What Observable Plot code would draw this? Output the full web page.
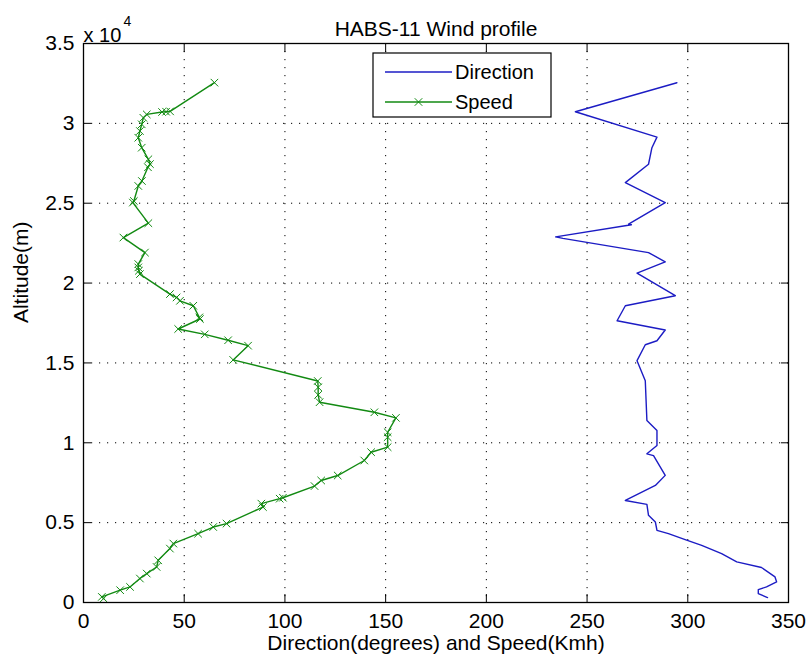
<!DOCTYPE html>
<html><head><meta charset="utf-8">
<script src="https://cdn.jsdelivr.net/npm/d3@7"></script>
<script src="https://cdn.jsdelivr.net/npm/@observablehq/plot@0.6"></script>
<style>body{margin:0;background:#fff} #chart{width:810px;height:666px}</style>
</head><body><div id="chart"></div>
<script>
// Wind speed (km/h) versus altitude (m)
const speedAlt = [32550,30750,30730,30710,30560,30350,29940,29520,29100,28475,27750,27450,27250,26390,26080,25140,25040,23750,22850,21910,21190,20980,20770,20560,19310,19100,18890,18580,17850,17750,17125,16790,16420,16080,15190,13870,13475,13000,12540,11910,11560,10660,10350,9725,9410,8890,7950,7640,7290,6560,6500,6190,5975,4940,4725,4310,3690,3375,2640,2225,1810,1500,975,770,350,250];
const speedKmh = [65,43,41,39,31.4,29.7,28.9,28,27.2,28.9,32.2,33,32,29,27.2,25,24.5,32.2,19.8,30.5,27.2,27.2,27.5,28,42.9,46.2,47.9,54.5,57.5,57.8,47,60.2,71.8,81.7,74.3,116.3,116.5,116.5,117.2,144.4,155.1,151,151,151,142.8,139.4,126.2,118,114.7,99,97.4,88.3,89.1,71,64.4,56.9,44.6,42.9,37.1,36.3,31.4,28,23.1,18.2,9.1,10];
// Wind direction (degrees) versus altitude (m)
const dirAlt = [32540,30725,29140,28475,27440,26290,25040,23690,23650,22890,22800,21910,21330,20625,19210,18580,17640,17060,16390,16140,15140,13890,11390,10770,9830,9310,9200,7960,7330,6390,6140,5460,5040,4520,4310,3940,3580,3060,2540,2190,1600,1290,975,810,560,310];
const dirDeg = [294.6,244.2,284.7,282.2,280.5,269,288.8,270.6,272,234.4,238,280.5,288.8,274.8,293.8,269,264.9,288.8,284.7,278.9,274.8,278.9,279.7,284.7,284.7,279.7,283,288.8,283.9,269,279.7,280.5,283.9,284.7,290.4,298.7,306.9,316.8,324.3,336.6,343.3,344.1,339.1,335,335,339.6];

const xTicks = [0,50,100,150,200,250,300,350];
const yTicks = [0,5000,10000,15000,20000,25000,30000,35000];
const titleText = "HABS-11 Wind profile";
const xLabel = "Direction(degrees) and Speed(Kmh)";
const yLabel = "Altitude(m)";
const legendLabels = ["Direction", "Speed"];

const speed = speedAlt.map((a, i) => ({alt: a, v: speedKmh[i]}));
const dir = dirAlt.map((a, i) => ({alt: a, v: dirDeg[i]}));

const BLUE = "#1c1cc4", GREEN = "#128a12";
const font = "'Liberation Sans', Arial, Helvetica, sans-serif";
const FS = 21;
const grid = {stroke: "#000", strokeOpacity: 1, strokeWidth: 1, strokeDasharray: "1.2,6.8"};
const noLabel = () => "";

const plot = Plot.plot({
  width: 810, height: 666,
  marginTop: 43, marginRight: 22, marginBottom: 64, marginLeft: 83,
  style: {fontFamily: font, fontSize: FS + "px", color: "#000", background: "#fff", overflow: "visible"},
  x: {domain: [0, 350]},
  y: {domain: [0, 35000]},
  marks: [
    Plot.gridX(xTicks, grid),
    Plot.gridY(yTicks, grid),
    Plot.line(dir, {x: "v", y: "alt", stroke: BLUE, strokeWidth: 1.4}),
    Plot.line(speed, {x: "v", y: "alt", stroke: GREEN, strokeWidth: 1.4}),
    Plot.dot(speed, {x: "v", y: "alt", symbol: "times", stroke: GREEN, r: 3.5, strokeWidth: 1}),
    Plot.axisX(xTicks, {anchor: "bottom", tickSize: -8, tickPadding: 19, label: null, fontSize: FS}),
    Plot.axisX(xTicks, {anchor: "top", tickSize: -8, tickFormat: noLabel, label: null}),
    Plot.axisY(yTicks, {anchor: "left", tickSize: -8, tickPadding: 17, label: null, fontSize: FS, tickFormat: d => String(d / 10000)}),
    Plot.axisY(yTicks, {anchor: "right", tickSize: -8, tickFormat: noLabel, label: null}),
    Plot.frame({stroke: "#000", strokeWidth: 1.3}),
    Plot.text([titleText], {text: d => d, frameAnchor: "top", dy: -22.7, fontSize: FS}),
    Plot.text([xLabel], {text: d => d, frameAnchor: "bottom", dy: 47, fontSize: FS}),
    Plot.text([yLabel], {text: d => d, frameAnchor: "left", dx: -62.7, rotate: -90, fontSize: FS}),
    Plot.text(["x 10"], {text: d => d, frameAnchor: "top-left", textAnchor: "start", dy: -16, fontSize: 20}),
    Plot.text(["4"], {text: d => d, frameAnchor: "top-left", textAnchor: "start", dx: 40, dy: -27.5, fontSize: 14})
  ]
});
document.getElementById("chart").appendChild(plot);

// Legend box (MATLAB style)
const svg = d3.select(plot);
const lg = svg.append("g").attr("font-family", font).attr("font-size", 20).attr("text-anchor", "start");
lg.append("rect").attr("x", 373).attr("y", 53).attr("width", 178).attr("height", 64)
  .attr("fill", "#fff").attr("stroke", "#000").attr("stroke-width", 1.2);
const rows = [{label: legendLabels[0], color: BLUE, y: 72, marker: false},
              {label: legendLabels[1], color: GREEN, y: 102, marker: true}];
for (const r of rows) {
  lg.append("line").attr("x1", 385).attr("x2", 452).attr("y1", r.y).attr("y2", r.y)
    .attr("stroke", r.color).attr("stroke-width", 1.4);
  if (r.marker) {
    lg.append("path").attr("d", d3.symbol(d3.symbolTimes, Math.PI * 3.5 * 3.5)())
      .attr("transform", `translate(418.5,${r.y})`).attr("stroke", r.color).attr("fill", "none");
  }
  lg.append("text").attr("x", 455).attr("y", r.y).attr("dy", "0.35em").attr("fill", "#000").text(r.label);
}
</script>
</body></html>
